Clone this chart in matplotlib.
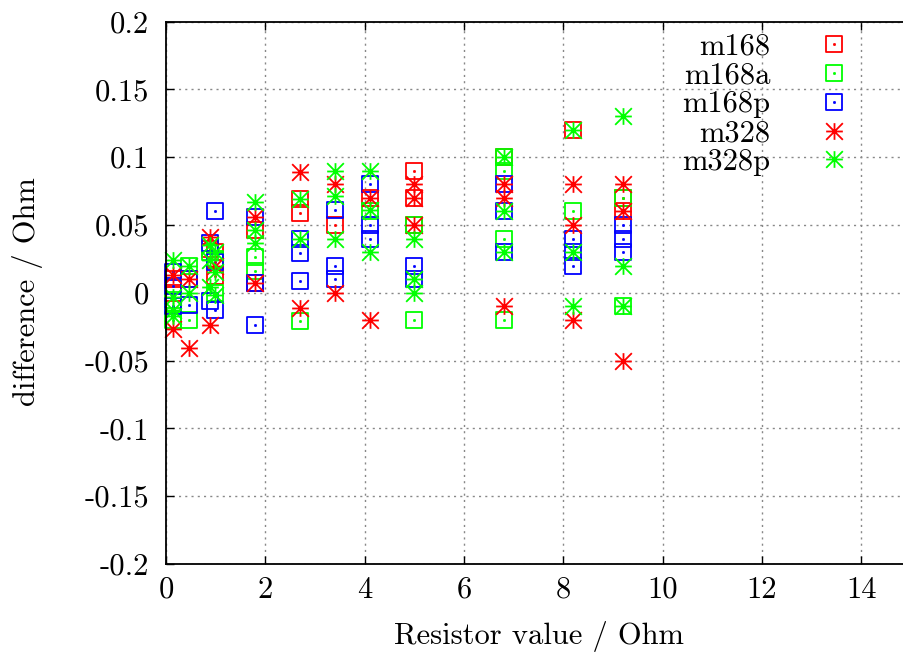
import matplotlib
matplotlib.use("Agg")
import matplotlib.pyplot as plt
from matplotlib.path import Path

plt.rcParams['font.family'] = ['cmr10', 'DejaVu Serif']
plt.rcParams['axes.unicode_minus'] = False
plt.rcParams['axes.formatter.use_mathtext'] = True

# ---- data ----
m168_x = [0.15, 0.15, 0.47, 0.88, 0.98, 0.98, 1.8, 1.8, 2.7, 2.7, 3.4, 4.1, 5.0, 5.0, 5.0, 6.8, 8.2, 9.2, 9.2]
m168_y = [0.010, 0.000, 0.010, 0.032, 0.030, 0.012, 0.046, 0.007, 0.069, 0.059, 0.050, 0.070, 0.090, 0.070, 0.050, 0.100, 0.120, 0.070, 0.060]

m168a_x = [0.15, 0.15, 0.47, 0.47, 0.88, 0.98, 0.98, 1.8, 1.8, 2.7, 4.1, 5.0, 5.0, 6.8, 6.8, 6.8, 6.8, 8.2, 9.2, 9.2]
m168a_y = [-0.005, -0.020, 0.020, -0.020, 0.030, 0.025, 0.000, 0.026, 0.016, -0.021, 0.060, 0.050, -0.020, 0.100, 0.090, 0.040, -0.020, 0.060, 0.070, -0.010]

m168p_x = [0.15, 0.15, 0.15, 0.47, 0.47, 0.88, 0.88, 0.98, 0.98, 0.98, 1.8, 1.8, 1.8, 2.7, 2.7, 2.7, 3.4, 3.4, 3.4,
           4.1, 4.1, 4.1, 5.0, 5.0, 6.8, 6.8, 6.8, 8.2, 8.2, 8.2, 9.2, 9.2, 9.2]
m168p_y = [0.015, 0.005, -0.010, 0.010, -0.009, 0.037, -0.006, 0.060, 0.023, -0.013, 0.056, 0.007, -0.024, 0.040, 0.029, 0.009, 0.061, 0.020, 0.010,
           0.080, 0.050, 0.040, 0.020, 0.010, 0.080, 0.060, 0.030, 0.040, 0.030, 0.020, 0.050, 0.040, 0.030]

m328_x = [0.15, 0.15, 0.47, 0.47, 0.88, 0.88, 0.98, 1.8, 1.8, 2.7, 2.7, 3.4, 3.4, 4.1, 4.1, 5.0, 5.0, 5.0,
          6.8, 6.8, 6.8, 8.2, 8.2, 8.2, 9.2, 9.2, 9.2]
m328_y = [0.013, -0.027, 0.010, -0.041, 0.041, -0.024, 0.020, 0.056, 0.007, 0.089, -0.011, 0.080, 0.000, 0.070, -0.020, 0.080, 0.070, 0.050,
          0.080, 0.070, -0.010, 0.080, 0.050, -0.020, 0.080, 0.060, -0.050]

m328p_x = [0.15, 0.15, 0.15, 0.15, 0.47, 0.47, 0.88, 0.88, 0.88, 0.98, 0.98, 0.98, 1.8, 1.8, 1.8, 2.7, 2.7,
           3.4, 3.4, 3.4, 4.1, 4.1, 4.1, 5.0, 5.0, 5.0, 6.8, 6.8, 6.8, 8.2, 8.2, 8.2, 9.2, 9.2, 9.2]
m328p_y = [0.024, -0.003, -0.0125, -0.0175, 0.020, 0.000, 0.035, 0.024, 0.004, 0.030, 0.015, -0.0015, 0.067, 0.046, 0.037, 0.069, 0.040,
           0.090, 0.071, 0.040, 0.090, 0.061, 0.030, 0.040, 0.010, 0.000, 0.100, 0.060, 0.030, 0.120, 0.030, -0.010, 0.130, 0.020, -0.010]

series_names = ["m168", "m168a", "m168p", "m328", "m328p"]
x_ticks = [0, 2, 4, 6, 8, 10, 12, 14]
y_ticks = [-0.2, -0.15, -0.1, -0.05, 0, 0.05, 0.1, 0.15, 0.2]
y_tick_labels = ["-0.2", "-0.15", "-0.1", "-0.05", "0", "0.05", "0.1", "0.15", "0.2"]

# ---- markers (gnuplot-like) ----
d = 0.06
sq_verts = [(-1, -1), (1, -1), (1, 1), (-1, 1), (0, 0),
            (-d, -d), (d, -d), (d, d), (-d, d), (0, 0)]
sq_codes = [Path.MOVETO, Path.LINETO, Path.LINETO, Path.LINETO, Path.CLOSEPOLY] * 2
square_dot = Path(sq_verts, sq_codes)

st_verts = [(-1, 0), (1, 0), (0, -1), (0, 1), (-1, -1), (1, 1), (-1, 1), (1, -1)]
st_codes = [Path.MOVETO, Path.LINETO] * 4
star = Path(st_verts, st_codes)

FS = 22

fig = plt.figure(figsize=(9.04, 6.55), dpi=100)
ax = fig.add_axes([166 / 904, 91 / 655, 745 / 904, 542.5 / 655])

styles = [
    (m168_x, m168_y, square_dot, '#ff0000'),
    (m168a_x, m168a_y, square_dot, '#00ff00'),
    (m168p_x, m168p_y, square_dot, '#0000ff'),
    (m328_x, m328_y, star, '#ff0000'),
    (m328p_x, m328p_y, star, '#00ff00'),
]
for name, (xs, ys, mk, col) in zip(series_names, styles):
    ax.plot(xs, ys, linestyle='none', marker=mk, markersize=12,
            markerfacecolor='none', markeredgecolor=col, markeredgewidth=1.3,
            label=name, zorder=3, clip_on=False)

ax.set_xlim(0, 15)
ax.set_ylim(-0.2, 0.2)
ax.set_xticks(x_ticks)
ax.set_xticklabels([str(t) for t in x_ticks])
ax.set_yticks(y_ticks)
ax.set_yticklabels(y_tick_labels)
ax.tick_params(direction='in', length=6, width=1, top=True, right=True,
               labelsize=FS, colors='black')
ax.tick_params(axis='y', pad=12)
ax.tick_params(axis='x', pad=9)
ax.grid(True, color='#888888', linestyle=(0, (1.5, 3)), linewidth=1.0, zorder=0)
for sp in ax.spines.values():
    sp.set_linewidth(1.3)
    sp.set_zorder(4)

ax.set_xlabel("Resistor value / Ohm", fontsize=FS)
ax.set_ylabel("difference / Ohm", fontsize=FS)
ax.xaxis.set_label_coords(0.5007, -0.105)
ax.yaxis.label.set_va('center')
ax.yaxis.set_label_coords(-0.186, 0.502)

leg = ax.legend(loc='upper right', bbox_to_anchor=(0.937, 0.979), frameon=False,
                markerfirst=False, fontsize=FS, handlelength=2.0, handletextpad=1.06,
                labelspacing=0.05, borderpad=0, borderaxespad=0, numpoints=1)
for t in leg.get_texts():
    t.set_ha('right')

fig.savefig("out.png", dpi=100)
